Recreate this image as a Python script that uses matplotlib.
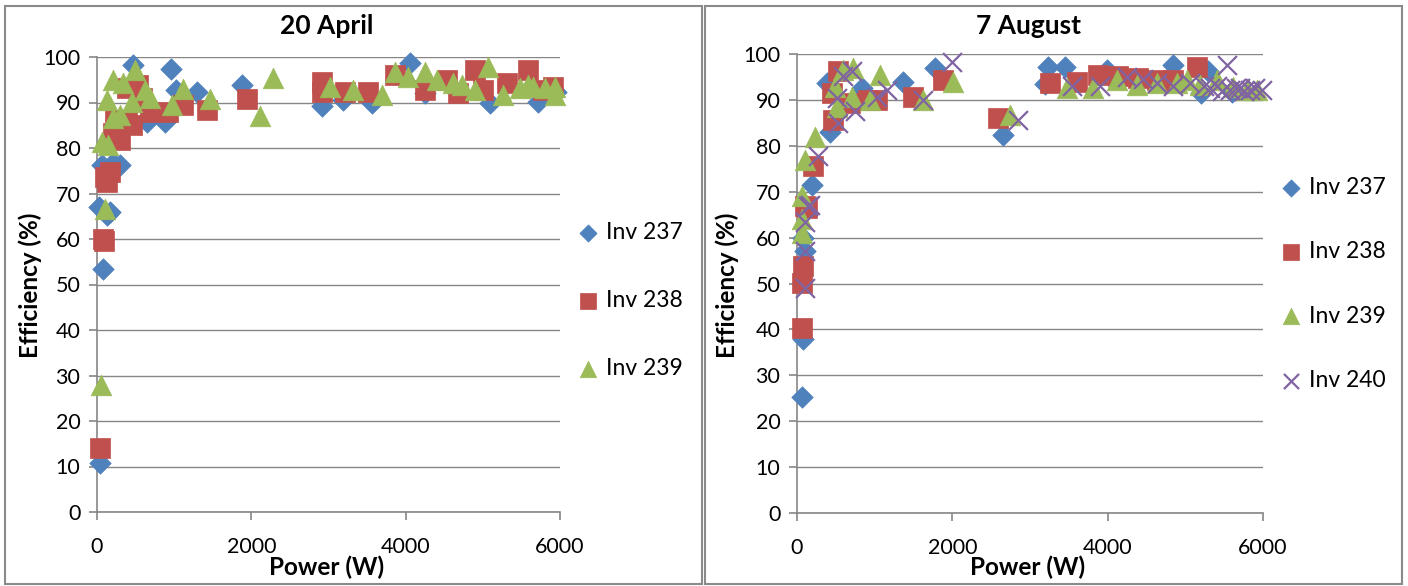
import matplotlib.pyplot as plt
from matplotlib.patches import Rectangle

plt.rcParams['font.family'] = ['Lato', 'DejaVu Sans']

# ---- 20 April ----
apr_237_x = [39, 82, 126, 20, 168, 61, 211, 298, 470, 955, 643, 881, 1030, 1300, 1875,
             2912, 3190, 3560, 4056, 4250, 5093, 5720, 5950]
apr_237_y = [10.8, 53.4, 65.3, 67.1, 66, 76.3, 76.6, 76.3, 98.2, 97.4, 85.8, 85.8, 92.7, 92.4, 93.8,
             89.2, 90.5, 89.8, 98.6, 92, 89.8, 90.2, 92.4]

apr_238_x = [39, 73, 95, 104, 126, 168, 211, 233, 298, 385, 385, 449, 535, 578, 687, 924, 1118,
             1421, 1940, 2912, 2912, 3214, 3516, 3862, 4250, 4532, 4683, 4899, 5006, 5309,
             5590, 5784, 5914]
apr_238_y = [14, 60.1, 59.5, 73.7, 72.6, 74.8, 83.2, 86.2, 81.8, 93.1, 86.2, 85.1, 93.8, 90.9, 88, 88, 89.5,
             88.4, 90.7, 94.6, 92.4, 92.4, 92.4, 96, 92.7, 95, 92, 97.1, 92.7, 94.2,
             97.1, 92.7, 93.5]

apr_239_x = [48, 104, 61, 147, 126, 211, 298, 211, 341, 449, 492, 622, 687, 967, 1118, 1464,
             2112, 2285, 3020, 3318, 3690, 3862, 4035, 4250, 4402, 4618, 4726, 4899, 5071,
             5266, 5482, 5590, 5654, 5806, 5936, 5936]
apr_239_y = [27.9, 66.7, 81.4, 80.7, 90.5, 86.5, 87.3, 95, 94.2, 90.2, 97.1, 92.7, 90.9, 89.5, 92.9, 90.7,
             87, 95.3, 93.5, 92.7, 91.6, 96.8, 95.7, 96.8, 95, 94.2, 93.8, 92.7, 97.9,
             91.6, 93.1, 93.8, 93.5, 93.1, 93.5, 91.6]

# ---- 7 August ----
aug_237_x = [61, 82, 82, 103, 189, 425, 383, 833, 1369, 1777, 2653, 3194, 3237, 3452, 3989,
             4847, 5298, 5200, 5600]
aug_237_y = [25.2, 37.8, 60, 57, 71.5, 83.1, 93.6, 92.5, 94, 96.9, 82.4, 93.5, 97.2, 97.2, 96.5,
             97.6, 96.2, 91.5, 91.8]

aug_238_x = [61, 61, 82, 103, 125, 210, 468, 447, 532, 683, 919, 1026, 1498, 1884, 2593,
             3259, 3603, 3881, 4139, 4396, 4633, 4847, 5148]
aug_238_y = [40.4, 50.2, 53.8, 66.8, 66.5, 75.5, 85.7, 91.5, 96.2, 89.3, 90, 90, 90.7, 94.3, 86,
             93.6, 94, 95.4, 95.1, 94.7, 94.3, 94.3, 97.2]

aug_239_x = [61, 61, 61, 103, 232, 489, 511, 596, 704, 725, 940, 1069, 1627, 2013, 2743,
             3473, 3817, 4118, 4375, 4633, 4890, 5020, 5191, 5406, 5620, 5792, 5921]
aug_239_y = [61, 64, 69, 77, 82, 92.9, 88.5, 96.5, 90.7, 96.9, 90, 95.4, 90, 94, 86.7,
             92.5, 92.7, 94.3, 93.3, 93.6, 93.6, 94.3, 93.2, 94.3, 92.9, 92.2, 92.2]

aug_240_x = [103, 103, 103, 146, 167, 274, 532, 511, 596, 704, 747, 1026, 1155, 1627, 1992,
             2850, 3538, 3903, 4246, 4461, 4633, 4847, 5062, 5234, 5320, 5406, 5470, 5534,
             5577, 5650, 5706, 5760, 5835, 5900, 5985]
aug_240_y = [49.1, 57, 63.5, 66.8, 67.2, 77.7, 84.9, 90.4, 95.1, 96.2, 87.5, 90.7, 92.2, 90, 98.3,
             85.7, 93, 93, 94.9, 94.5, 93.6, 93, 93.6, 93, 92.5, 93, 92, 97.6,
             92.2, 92.5, 92.7, 92, 92.2, 92.5, 92.2]

blue = '#4F81BD'
red = '#C0504D'
green = '#9BBB59'
purple = '#8064A2'
grey = '#868686'

W, H = 1408, 586
fig = plt.figure(figsize=(W / 100, H / 100), dpi=100)

# panel borders
for x0, x1 in [(5, 702), (705, 1402)]:
    fig.patches.append(Rectangle((x0 / W, 2 / H), (x1 - x0) / W, (H - 8) / H,
                                 transform=fig.transFigure, fill=False,
                                 edgecolor='#8a8a8a', lw=1.5))


def style(ax, title, cx):
    ax.set_xlim(0, 6000)
    ax.set_ylim(0, 100)
    ax.set_xticks([0, 2000, 4000, 6000])
    ax.set_yticks(range(0, 101, 10))
    ax.yaxis.grid(True, color=grey, lw=1)
    ax.set_axisbelow(True)
    for s in ['top', 'right']:
        ax.spines[s].set_visible(False)
    for s in ['left', 'bottom']:
        ax.spines[s].set_color(grey)
        ax.spines[s].set_linewidth(1.2)
    ax.tick_params(axis='both', colors=grey, labelcolor='black', labelsize=15.5,
                   length=6, width=1.2, direction='out')
    ax.tick_params(axis='y', pad=6)
    ax.tick_params(axis='x', pad=12)
    fig.text(cx / W, 1 - 26 / H, title, ha='center', va='center',
             fontsize=19, fontweight='bold')
    fig.text(cx / W, 1 - 567 / H, 'Power (W)', ha='center', va='center',
             fontsize=17.5, fontweight='bold')


def scatter_all(ax, series):
    for xs, ys, m, c, s, lab in series:
        if m == 'x':
            ax.scatter(xs, ys, marker='x', s=s, color=c, linewidths=1.6, label=lab,
                       clip_on=False, zorder=3)
        else:
            ax.scatter(xs, ys, marker=m, s=s, color=c, edgecolors=c, linewidths=0.5,
                       label=lab, clip_on=False, zorder=3)


# left chart
ax1 = fig.add_axes([97 / W, 1 - 512 / H, 463 / W, 455 / H])
scatter_all(ax1, [
    (apr_237_x, apr_237_y, 'D', blue, 120, 'Inv 237'),
    (apr_238_x, apr_238_y, 's', red, 190, 'Inv 238'),
    (apr_239_x, apr_239_y, '^', green, 220, 'Inv 239'),
])
style(ax1, '20 April', 327)
fig.text(30 / W, 1 - 285 / H, 'Efficiency (%)', rotation=90, ha='center', va='center',
         fontsize=17.5, fontweight='bold')
ax1.legend(loc='center left', bbox_to_anchor=(1.035, 0.464), frameon=False,
           fontsize=16.5, handlelength=1.0, handletextpad=0.3, labelspacing=2.05,
           markerscale=0.8, borderpad=0, borderaxespad=0)

# right chart
ax2 = fig.add_axes([797 / W, 1 - 513 / H, 466 / W, 459 / H])
scatter_all(ax2, [
    (aug_237_x, aug_237_y, 'D', blue, 120, 'Inv 237'),
    (aug_238_x, aug_238_y, 's', red, 190, 'Inv 238'),
    (aug_239_x, aug_239_y, '^', green, 220, 'Inv 239'),
    (aug_240_x, aug_240_y, 'x', purple, 185, 'Inv 240'),
])
style(ax2, '7 August', 1028)
fig.text(727 / W, 1 - 285 / H, 'Efficiency (%)', rotation=90, ha='center', va='center',
         fontsize=17.5, fontweight='bold')
ax2.legend(loc='center left', bbox_to_anchor=(1.035, 0.499), frameon=False,
           fontsize=16.5, handlelength=1.0, handletextpad=0.3, labelspacing=1.88,
           markerscale=0.8, borderpad=0, borderaxespad=0)

plt.savefig('out.png', dpi=100)
